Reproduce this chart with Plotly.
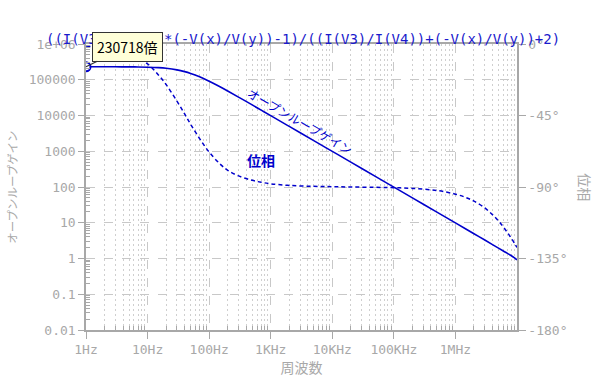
import plotly.graph_objects as go

# ---- data ----
freq_hz = [1, 2, 3, 5, 7, 10, 15, 20, 30, 40, 50, 70, 100, 150, 200, 300, 500, 700,
           1e3, 2e3, 5e3, 1e4, 2e4, 5e4, 1e5, 2e5, 5e5, 1e6, 1.5e6, 2e6, 3e6, 4e6,
           5e6, 6e6, 7e6, 8e6, 9e6, 1e7]
gain = [230718, 230470, 230160, 229170, 227720, 224720, 217840, 209200, 189220,
        168930, 150440, 120760, 91143, 63578, 48496, 32735, 19769, 14146,
        9912, 4960, 1984, 992, 496, 198.4, 99.2, 49.6, 19.84, 9.92, 6.6, 4.94,
        3.28, 2.45, 1.95, 1.62, 1.39, 1.21, 1.06, 0.92]
phase_deg = [-1.3, -2.7, -4.0, -6.6, -9.3, -12.5, -19.5, -25.5, -36.0, -44.0, -50.5,
             -59.5, -68.0, -75.5, -79.5, -83.0, -85.8, -87.0, -88.0, -89.0, -89.6,
             -89.8, -90.0, -90.2, -90.4, -90.9, -92.2, -94.5, -96.7, -98.9, -103.2,
             -107.4, -111.3, -115.1, -118.7, -122.0, -125.1, -128.0]

x_tickvals = [1, 10, 100, 1e3, 1e4, 1e5, 1e6]
x_ticktext = ["1Hz", "10Hz", "100Hz", "1KHz", "10KHz", "100KHz", "1MHz"]
y_tickvals = [0.01, 0.1, 1, 10, 100, 1000, 10000, 100000, 1e6]
y_ticktext = ["0.01", "0.1", "1", "10", "100", "1000", "10000", "100000", "1e+06"]
y2_tickvals = [0, -45, -90, -135, -180]
y2_ticktext = ["0°", "-45°", "-90°", "-135°", "-180°"]

title_text = "((I(V3)/I(V4))*(-V(x)/V(y))-1)/((I(V3)/I(V4))+(-V(x)/V(y))+2)"

BLUE = "#0000cc"
TITLE_BLUE = "#1a1acc"
GRAY = "#a8a8a8"
GRID = "#c8c8c8"
MINOR_GRID = "#cfcfcf"
MONO = "DejaVu Sans Mono"
JP = "Noto Sans CJK JP"

minor_x = [m * 10 ** d for d in range(7) for m in range(2, 10)]
minor_y = [m * 10.0 ** d for d in range(-2, 6) for m in range(2, 10)]

fig = go.Figure()
fig.add_trace(go.Scatter(x=freq_hz, y=phase_deg, yaxis="y2", mode="lines",
                         line=dict(color=BLUE, width=1.5, dash="4px,3px"),
                         line_shape="spline", showlegend=False, hoverinfo="skip"))
fig.add_trace(go.Scatter(x=freq_hz, y=gain, mode="lines",
                         line=dict(color=BLUE, width=1.6), line_shape="spline",
                         showlegend=False, hoverinfo="skip"))
fig.add_trace(go.Scatter(x=freq_hz[:1], y=gain[:1], mode="markers",
                         marker=dict(symbol="circle", size=9, color="white",
                                     line=dict(width=2, color=BLUE)),
                         showlegend=False, hoverinfo="skip"))

fig.update_layout(
    width=600, height=381,
    margin=dict(l=86, r=83, t=44, b=51),
    paper_bgcolor="white", plot_bgcolor="white",
    xaxis=dict(type="log", range=[0, 7], tickmode="array", tickvals=x_tickvals,
               ticktext=x_ticktext, showgrid=True, gridcolor=GRID, griddash="dash",
               gridwidth=1, ticks="outside", ticklen=7, tickcolor=GRAY,
               showline=True, linecolor=GRAY, mirror=True, linewidth=1.5,
               tickfont=dict(family=MONO, size=13, color=GRAY),
               title=dict(text="周波数", font=dict(family=JP, size=14, color=GRAY), standoff=2),
               minor=dict(tickmode="array", tickvals=minor_x, ticks="inside", ticklen=4,
                          tickcolor=GRAY, showgrid=True, gridcolor=MINOR_GRID,
                          griddash="2px,3px"),
               zeroline=False, automargin=False),
    yaxis=dict(type="log", range=[-2, 6], tickmode="array", tickvals=y_tickvals,
               ticktext=y_ticktext, showgrid=True, gridcolor=GRID, griddash="dash",
               ticks="outside", ticklen=6, tickcolor=GRAY,
               showline=True, linecolor=GRAY, linewidth=1.5,
               tickfont=dict(family=MONO, size=13, color=GRAY),
               minor=dict(tickmode="array", tickvals=minor_y, ticks="inside", ticklen=4,
                          tickcolor=GRAY, showgrid=False),
               zeroline=False, automargin=False),
    yaxis2=dict(overlaying="y", side="right", range=[-180, 0], tickmode="array",
                tickvals=y2_tickvals, ticktext=y2_ticktext, showgrid=False,
                ticks="outside", ticklen=7, tickcolor=GRAY,
                showline=True, linecolor=GRAY, linewidth=1.5,
                tickfont=dict(family=MONO, size=13, color=GRAY),
                zeroline=False, automargin=False),
)

annotations = [
    dict(text=title_text, xref="paper", yref="paper", x=-0.097, y=1.0, xanchor="left",
         yanchor="middle", yshift=5, showarrow=False,
         font=dict(family=MONO, size=14, color=TITLE_BLUE)),
    dict(text="オープンループゲイン", xref="paper", yref="paper", x=-0.172, y=0.5,
         xanchor="center", yanchor="middle",
         textangle=-90, showarrow=False, font=dict(family=JP, size=11.5, color=GRAY)),
    dict(text="位相", xref="paper", yref="paper", x=1.157, y=0.5, textangle=90,
         xanchor="center", yanchor="middle",
         showarrow=False, font=dict(family=JP, size=14, color=GRAY)),
    dict(text="230718倍", x=0, y=5.363, xref="x", yref="y", ax=41, ay=-20,
         showarrow=True, arrowhead=0, arrowwidth=1.2, arrowcolor="#333333",
         bgcolor="#ffffd8", bordercolor="#333333", borderwidth=1, borderpad=4,
         font=dict(family=JP, size=14, color="black")),
    dict(text="オープンループゲイン", x=3.47, y=3.85, xref="x", yref="y", showarrow=False,
         textangle=30, font=dict(family=JP, size=12, color=BLUE)),
    dict(text="<b>位相</b>", x=2.84, y=2.755, xref="x", yref="y", showarrow=False,
         font=dict(family=JP, size=14, color=BLUE)),
]
fig.update_layout(annotations=annotations)

fig.write_html("out.html", config={"displayModeBar": False},
               post_script="document.body.style.margin='0';document.body.style.overflow='hidden';")
